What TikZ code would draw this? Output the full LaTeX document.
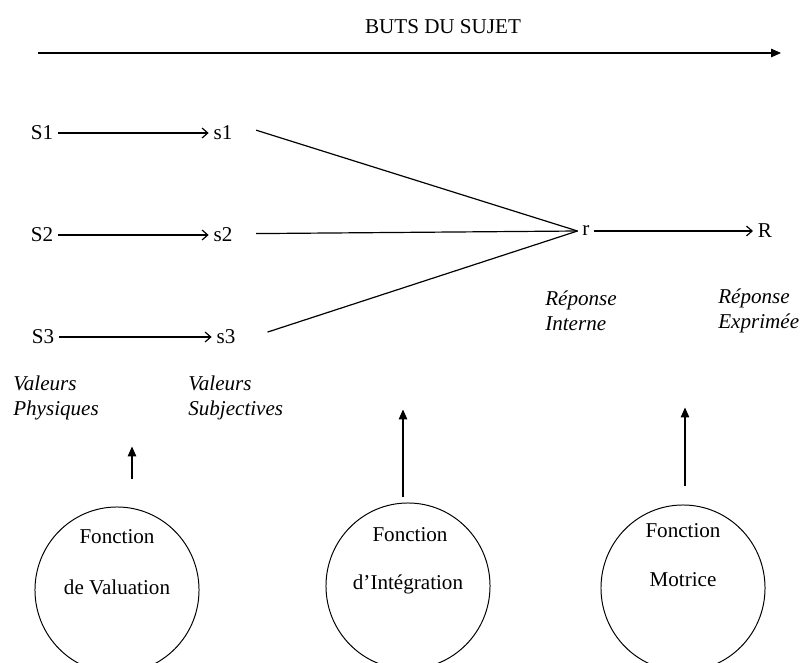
\documentclass[tikz,border=0pt]{standalone}
\usepackage{fontspec}
\setmainfont{Liberation Serif}
\usetikzlibrary{arrows.meta,shapes.geometric}
\begin{document}
\begin{tikzpicture}[x=0.025cm,y=-0.025cm,
	txt/.style={font=\fontsize{15}{18}\selectfont},
	lbl/.style={font=\fontsize{15}{17.7}\selectfont\itshape,align=left,anchor=west,inner sep=0pt},
	fonc/.style={draw,ellipse,minimum width=4.1cm,minimum height=4.15cm,line width=0.7pt},
	flow/.style={-{Straight Barb[length=4pt,width=7pt]},line width=0.85pt},
	lift/.style={-{Triangle[length=7pt,width=6pt]},line width=0.85pt}]
	\useasboundingbox (0,0) rectangle (801,663);
	\node[txt] (buts) at (443,27) {BUTS DU SUJET};
	\coordinate (gstart) at (38,53);
	\coordinate (gend) at (781,53);
	\draw[lift] (gstart) -- (gend);
	% valeurs physiques -> valeurs subjectives
	\node[txt] (S1) at (42,133) {S1};
	\node[txt] (S2) at (42,235) {S2};
	\node[txt] (S3) at (43,337) {S3};
	\node[txt] (s1) at (223,133) {s1};
	\node[txt] (s2) at (223,235) {s2};
	\node[txt] (s3) at (226,337) {s3};
	\draw[flow] (S1) -- (s1);
	\draw[flow] (S2) -- (s2);
	\draw[flow] (S3) -- (s3);
	\node[txt] (r) at (586,231) {r};
	\node[txt] (R) at (765,231) {R};
	\draw[line width=0.85pt] ([xshift=0.47cm,yshift=2pt]s1.east) -- (r.west);
	\draw[line width=0.85pt] ([xshift=0.47cm,yshift=1pt]s2.east) -- (r.west);
	\draw[line width=0.85pt] ([xshift=0.68cm,yshift=3.5pt]s3.east) -- (r.west);
	\draw[flow] (r) -- (R);
	\node[lbl] (phys) at (13,398) {Valeurs\\Physiques};
	\node[lbl] (subj) at (188,398) {Valeurs\\Subjectives};
	\node[lbl] (interne) at (545,311) {R\'eponse\\Interne};
	\node[lbl] (exprime) at (718,311) {R\'eponse\\Exprim\'ee};
	% les trois fonctions
	\node[fonc] (val) at (117,590) {};
	\node[fonc] (integ) at (408,586) {};
	\node[fonc] (mot) at (683,588) {};
	\node[txt] (valA) at (117,537) {Fonction};
	\node[txt] (valB) at (117,587) {de Valuation};
	\node[txt] (integA) at (410,535) {Fonction};
	\node[txt] (integB) at (408,584) {d’Intégration};
	\node[txt] (motA) at (683,531) {Fonction};
	\node[txt] (motB) at (683,580) {Motrice};
	\draw[lift] ([xshift=0.375cm,yshift=0.675cm]val.north) -- ++(0,-33);
	\draw[lift] ([xshift=-0.125cm,yshift=0.125cm]integ.north) -- ++(0,-88);
	\draw[lift] ([xshift=0.05cm,yshift=0.45cm]mot.north) -- ++(0,-79);
\end{tikzpicture}
\end{document}
